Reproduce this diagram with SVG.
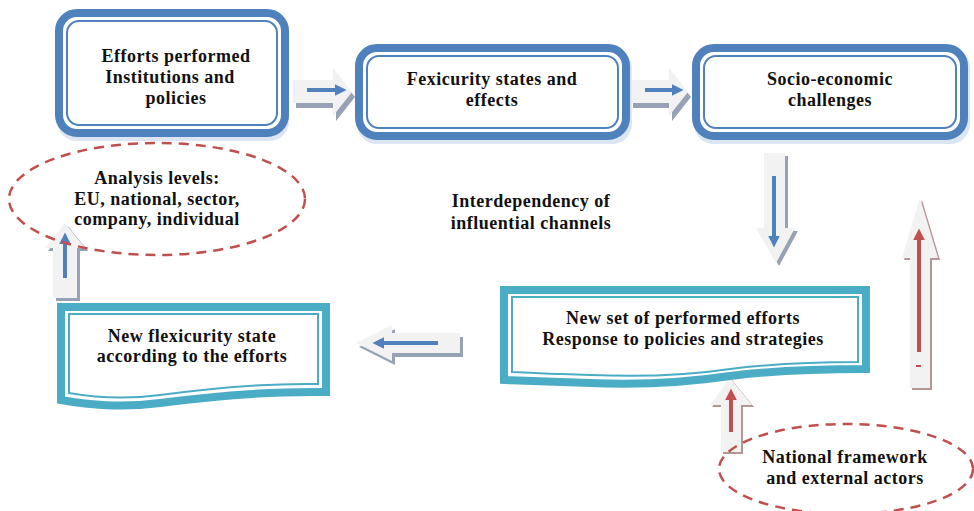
<svg xmlns="http://www.w3.org/2000/svg" width="974" height="511" viewBox="0 0 974 511">
<defs>
<style>
.t{font-family:"Liberation Serif","Times New Roman",serif;font-weight:bold;font-size:18px;letter-spacing:0.5px;fill:#111;text-anchor:middle}
.bo{fill:#fff;stroke:#4F81BD;stroke-width:8}
.bi{fill:none;stroke:#4F81BD;stroke-width:2}
.bs{fill:#DCE6F2}
.do{fill:#fff;stroke:#4BACC6;stroke-width:8;stroke-linejoin:miter}
.di{fill:none;stroke:#4BACC6;stroke-width:2}
.el{fill:none;stroke:#C0504D;stroke-width:2.5;stroke-dasharray:10 7}
.af{fill:#F2F2F2}
.as{fill:#97A3B4}
.ar{fill:#B69595}
.lb{stroke:#4F81BD;stroke-width:4;fill:none}
.lr{stroke:#C0504D;stroke-width:4;fill:none}
</style>
<marker id="hb" viewBox="0 0 10 10" refX="2" refY="5" markerWidth="3" markerHeight="3" orient="auto" markerUnits="strokeWidth"><path d="M0,0 L10,5 L0,10 Z" fill="#4F81BD"/></marker>
<marker id="hr" viewBox="0 0 10 10" refX="2" refY="5" markerWidth="3" markerHeight="3" orient="auto" markerUnits="strokeWidth"><path d="M0,0 L10,5 L0,10 Z" fill="#C0504D"/></marker>
</defs>
<rect width="974" height="511" fill="#fff"/>

<g id="connectors">
<g id="arrow-r1">
<path class="as" d="M296,85 H336 V73 L355,97 L336,121 V108 H296 Z"/>
<path class="af" d="M293,80 H333 V68 L352,92 L333,116 V103 H293 Z"/>
<line class="lb" x1="307" y1="90" x2="337" y2="90" marker-end="url(#hb)"/>
</g>
<g id="arrow-r2">
<path class="as" d="M633,85 H672 V73 L691,97 L672,121 V108 H633 Z"/>
<path class="af" d="M630,80 H669 V68 L688,92 L669,116 V103 H630 Z"/>
<line class="lb" x1="645" y1="90" x2="674" y2="90" marker-end="url(#hb)"/>
</g>
<g id="arrow-down">
<path class="as" d="M767,156 H788 V231 H798 L779,266 L759,231 H767 Z"/>
<path class="af" d="M764,153 H785 V228 H795 L776,263 L756,228 H764 Z"/>
<line class="lb" x1="774" y1="176" x2="774" y2="238" marker-end="url(#hb)"/>
</g>
<g id="arrow-up-red">
<path class="ar" d="M922,200 L940,260 H932 V390 H912 V260 H904 Z"/>
<path class="af" d="M920,198 L938,258 H930 V388 H910 V258 H902 Z"/>
<line class="lr" x1="919" y1="352" x2="919" y2="238" marker-end="url(#hr)"/>
<line x1="916" y1="366" x2="921" y2="366" stroke="#C0504D" stroke-width="2"/>
</g>
<g id="arrow-up-left">
<path class="as" d="M68,226 L88,251 H80 V301 H56 V251 H48 Z"/>
<path class="af" d="M65,223 L85,248 H77 V298 H53 V248 H45 Z"/>
<line class="lb" x1="65" y1="278" x2="65" y2="242" marker-end="url(#hb)"/>
</g>
<g id="arrow-left">
<path class="as" d="M359,347 L395,329 V337 H463 V357 H395 V365 Z"/>
<path class="af" d="M356,343 L392,325 V333 H460 V353 H392 V361 Z"/>
<line class="lb" x1="438" y1="343" x2="382" y2="343" marker-end="url(#hb)"/>
</g>
<g id="arrow-up-bottom">
<path class="ar" d="M732,380 L754,407 H743 V454 H723 V407 H712 Z"/>
<path class="af" d="M730,378 L752,405 H741 V452 H721 V405 H710 Z"/>
<line class="lr" x1="731" y1="432" x2="731" y2="398" marker-end="url(#hr)"/>
</g>
</g>

<g id="node-efforts">
<rect class="bs" x="57" y="13" width="232" height="128" rx="20"/>
<rect class="bo" x="59" y="13" width="226" height="120" rx="18"/>
<rect class="bi" x="67" y="21" width="210" height="104" rx="12"/>
<text class="t" x="176" y="62">Efforts performed</text>
<text class="t" x="170" y="83">Institutions and</text>
<text class="t" x="176" y="104">policies</text>
</g>

<g id="node-fexicurity">
<rect class="bs" x="357" y="48" width="275" height="96" rx="20"/>
<rect class="bo" x="359" y="48" width="267" height="88" rx="18"/>
<rect class="bi" x="367" y="56" width="251" height="72" rx="12"/>
<text class="t" x="492" y="85">Fexicurity states and</text>
<text class="t" x="492" y="106">effects</text>
</g>

<g id="node-socio">
<rect class="bs" x="694" y="48" width="276" height="96" rx="20"/>
<rect class="bo" x="696" y="48" width="268" height="88" rx="18"/>
<rect class="bi" x="704" y="56" width="252" height="72" rx="12"/>
<text class="t" x="830" y="85">Socio-economic</text>
<text class="t" x="830" y="106">challenges</text>
</g>

<g id="node-analysis">
<ellipse class="el" cx="157" cy="199" rx="148" ry="56"/>
<text class="t" x="157" y="184">Analysis levels:</text>
<text class="t" x="157" y="205">EU, national, sector,</text>
<text class="t" x="157" y="225">company, individual</text>
</g>

<g id="label-interdependency">
<text class="t" x="531" y="207">Interdependency of</text>
<text class="t" x="531" y="229">influential channels</text>
</g>

<g id="node-new-state">
<path class="do" d="M61,307 H326 V392 C270,391 215,396 160,403 C120,408 90,405 61,400 Z"/>
<path class="di" d="M69,314 H318 V384 C265,383 212,388 160,395 C122,400 92,397 69,393 Z"/>
<text class="t" x="192" y="342">New flexicurity state</text>
<text class="t" x="192" y="362">according to the efforts</text>
</g>

<g id="node-new-efforts">
<path class="do" d="M504,290 H866 V369 C820,369 770,371 730,376 C690,382 640,385 590,383 C555,382 530,381 504,380 Z"/>
<path class="di" d="M512,297 H858 V362 C815,362 770,364 730,369 C690,375 640,377 590,375 C555,374 532,373 512,372 Z"/>
<text class="t" x="683" y="324">New set of performed efforts</text>
<text class="t" x="683" y="345">Response to policies and strategies</text>
</g>

<g id="node-national">
<ellipse class="el" cx="846" cy="469" rx="127" ry="45"/>
<text class="t" x="845" y="463">National framework</text>
<text class="t" x="845" y="484">and external actors</text>
</g>
</svg>
